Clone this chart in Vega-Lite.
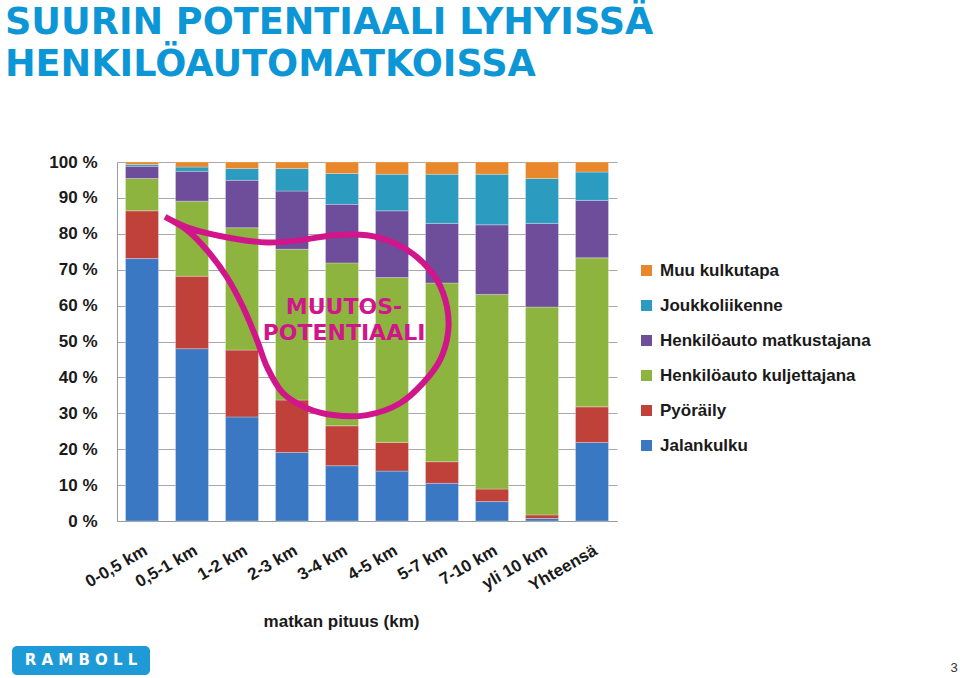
{
  "$schema": "https://vega.github.io/schema/vega-lite/v6.json",
  "width": 500,
  "height": 359,
  "autosize": "none",
  "padding": {"left": 117, "top": 162, "right": 343, "bottom": 157},
  "background": "white",
  "title": {
    "text": ["SUURIN POTENTIAALI LYHYISSÄ", "HENKILÖAUTOMATKOISSA"],
    "anchor": "start",
    "frame": "group",
    "dx": -112,
    "offset": 69,
    "font": "DejaVu Sans",
    "fontSize": 36.6,
    "fontWeight": "bold",
    "color": "#0D96D6",
    "lineHeight": 42
  },
  "config": {
    "view": {"stroke": null},
    "axis": {"labelFont": "Liberation Sans", "titleFont": "Liberation Sans"},
    "legend": {"labelFont": "Liberation Sans"}
  },
  "datasets": {
    "osuudet": [
      {"matka": "0-0,5 km", "kulkutapa": "Jalankulku", "osuus": 73.1},
      {"matka": "0-0,5 km", "kulkutapa": "Pyöräily", "osuus": 13.3},
      {"matka": "0-0,5 km", "kulkutapa": "Henkilöauto kuljettajana", "osuus": 9.0},
      {"matka": "0-0,5 km", "kulkutapa": "Henkilöauto matkustajana", "osuus": 3.4},
      {"matka": "0-0,5 km", "kulkutapa": "Joukkoliikenne", "osuus": 0.5},
      {"matka": "0-0,5 km", "kulkutapa": "Muu kulkutapa", "osuus": 0.7},
      {"matka": "0,5-1 km", "kulkutapa": "Jalankulku", "osuus": 48.0},
      {"matka": "0,5-1 km", "kulkutapa": "Pyöräily", "osuus": 20.2},
      {"matka": "0,5-1 km", "kulkutapa": "Henkilöauto kuljettajana", "osuus": 20.9},
      {"matka": "0,5-1 km", "kulkutapa": "Henkilöauto matkustajana", "osuus": 8.3},
      {"matka": "0,5-1 km", "kulkutapa": "Joukkoliikenne", "osuus": 1.2},
      {"matka": "0,5-1 km", "kulkutapa": "Muu kulkutapa", "osuus": 1.4},
      {"matka": "1-2 km", "kulkutapa": "Jalankulku", "osuus": 29.0},
      {"matka": "1-2 km", "kulkutapa": "Pyöräily", "osuus": 18.6},
      {"matka": "1-2 km", "kulkutapa": "Henkilöauto kuljettajana", "osuus": 34.1},
      {"matka": "1-2 km", "kulkutapa": "Henkilöauto matkustajana", "osuus": 13.2},
      {"matka": "1-2 km", "kulkutapa": "Joukkoliikenne", "osuus": 3.3},
      {"matka": "1-2 km", "kulkutapa": "Muu kulkutapa", "osuus": 1.8},
      {"matka": "2-3 km", "kulkutapa": "Jalankulku", "osuus": 19.1},
      {"matka": "2-3 km", "kulkutapa": "Pyöräily", "osuus": 14.6},
      {"matka": "2-3 km", "kulkutapa": "Henkilöauto kuljettajana", "osuus": 42.0},
      {"matka": "2-3 km", "kulkutapa": "Henkilöauto matkustajana", "osuus": 16.2},
      {"matka": "2-3 km", "kulkutapa": "Joukkoliikenne", "osuus": 6.3},
      {"matka": "2-3 km", "kulkutapa": "Muu kulkutapa", "osuus": 1.8},
      {"matka": "3-4 km", "kulkutapa": "Jalankulku", "osuus": 15.4},
      {"matka": "3-4 km", "kulkutapa": "Pyöräily", "osuus": 11.1},
      {"matka": "3-4 km", "kulkutapa": "Henkilöauto kuljettajana", "osuus": 45.4},
      {"matka": "3-4 km", "kulkutapa": "Henkilöauto matkustajana", "osuus": 16.3},
      {"matka": "3-4 km", "kulkutapa": "Joukkoliikenne", "osuus": 8.6},
      {"matka": "3-4 km", "kulkutapa": "Muu kulkutapa", "osuus": 3.2},
      {"matka": "4-5 km", "kulkutapa": "Jalankulku", "osuus": 13.9},
      {"matka": "4-5 km", "kulkutapa": "Pyöräily", "osuus": 8.0},
      {"matka": "4-5 km", "kulkutapa": "Henkilöauto kuljettajana", "osuus": 45.9},
      {"matka": "4-5 km", "kulkutapa": "Henkilöauto matkustajana", "osuus": 18.6},
      {"matka": "4-5 km", "kulkutapa": "Joukkoliikenne", "osuus": 10.2},
      {"matka": "4-5 km", "kulkutapa": "Muu kulkutapa", "osuus": 3.4},
      {"matka": "5-7 km", "kulkutapa": "Jalankulku", "osuus": 10.5},
      {"matka": "5-7 km", "kulkutapa": "Pyöräily", "osuus": 6.0},
      {"matka": "5-7 km", "kulkutapa": "Henkilöauto kuljettajana", "osuus": 49.8},
      {"matka": "5-7 km", "kulkutapa": "Henkilöauto matkustajana", "osuus": 16.6},
      {"matka": "5-7 km", "kulkutapa": "Joukkoliikenne", "osuus": 13.7},
      {"matka": "5-7 km", "kulkutapa": "Muu kulkutapa", "osuus": 3.4},
      {"matka": "7-10 km", "kulkutapa": "Jalankulku", "osuus": 5.4},
      {"matka": "7-10 km", "kulkutapa": "Pyöräily", "osuus": 3.5},
      {"matka": "7-10 km", "kulkutapa": "Henkilöauto kuljettajana", "osuus": 54.2},
      {"matka": "7-10 km", "kulkutapa": "Henkilöauto matkustajana", "osuus": 19.4},
      {"matka": "7-10 km", "kulkutapa": "Joukkoliikenne", "osuus": 14.1},
      {"matka": "7-10 km", "kulkutapa": "Muu kulkutapa", "osuus": 3.4},
      {"matka": "yli 10 km", "kulkutapa": "Jalankulku", "osuus": 0.7},
      {"matka": "yli 10 km", "kulkutapa": "Pyöräily", "osuus": 1.0},
      {"matka": "yli 10 km", "kulkutapa": "Henkilöauto kuljettajana", "osuus": 57.9},
      {"matka": "yli 10 km", "kulkutapa": "Henkilöauto matkustajana", "osuus": 23.3},
      {"matka": "yli 10 km", "kulkutapa": "Joukkoliikenne", "osuus": 12.5},
      {"matka": "yli 10 km", "kulkutapa": "Muu kulkutapa", "osuus": 4.6},
      {"matka": "Yhteensä", "kulkutapa": "Jalankulku", "osuus": 21.9},
      {"matka": "Yhteensä", "kulkutapa": "Pyöräily", "osuus": 9.9},
      {"matka": "Yhteensä", "kulkutapa": "Henkilöauto kuljettajana", "osuus": 41.5},
      {"matka": "Yhteensä", "kulkutapa": "Henkilöauto matkustajana", "osuus": 16.0},
      {"matka": "Yhteensä", "kulkutapa": "Joukkoliikenne", "osuus": 7.9},
      {"matka": "Yhteensä", "kulkutapa": "Muu kulkutapa", "osuus": 2.8}
    ],
    "jarjestys": [
      {"kulkutapa": "Jalankulku", "jarjestys": 1},
      {"kulkutapa": "Pyöräily", "jarjestys": 2},
      {"kulkutapa": "Henkilöauto kuljettajana", "jarjestys": 3},
      {"kulkutapa": "Henkilöauto matkustajana", "jarjestys": 4},
      {"kulkutapa": "Joukkoliikenne", "jarjestys": 5},
      {"kulkutapa": "Muu kulkutapa", "jarjestys": 6}
    ],
    "kontur": [
      {"i": 0, "px": 0.96, "py": 84.7},
      {"i": 1, "px": 1.46, "py": 81.5},
      {"i": 2, "px": 2.32, "py": 78.7},
      {"i": 3, "px": 3.0, "py": 77.6},
      {"i": 4, "px": 3.66, "py": 78.2},
      {"i": 5, "px": 4.32, "py": 79.6},
      {"i": 6, "px": 5.0, "py": 79.6},
      {"i": 7, "px": 5.52, "py": 77.6},
      {"i": 8, "px": 6.0, "py": 73.5},
      {"i": 9, "px": 6.4, "py": 67.1},
      {"i": 10, "px": 6.6, "py": 59.6},
      {"i": 11, "px": 6.62, "py": 52.3},
      {"i": 12, "px": 6.46, "py": 44.8},
      {"i": 13, "px": 6.12, "py": 38.4},
      {"i": 14, "px": 5.66, "py": 32.8},
      {"i": 15, "px": 5.0, "py": 29.5},
      {"i": 16, "px": 4.32, "py": 29.5},
      {"i": 17, "px": 3.8, "py": 31.4},
      {"i": 18, "px": 3.32, "py": 35.6},
      {"i": 19, "px": 3.0, "py": 42.9},
      {"i": 20, "px": 2.8, "py": 50.4},
      {"i": 21, "px": 2.52, "py": 59.6},
      {"i": 22, "px": 2.2, "py": 67.9},
      {"i": 23, "px": 1.8, "py": 75.4},
      {"i": 24, "px": 1.4, "py": 81.0},
      {"i": 25, "px": 0.96, "py": 84.7}
    ]
  },
  "layer": [
    {
      "data": {"name": "osuudet"},
      "transform": [
        {"lookup": "kulkutapa", "from": {"data": {"name": "jarjestys"}, "key": "kulkutapa", "fields": ["jarjestys"]}}
      ],
      "mark": {"type": "bar", "stroke": "#ffffff", "strokeOpacity": 0.35, "strokeWidth": 0.8},
      "encoding": {
        "x": {
          "field": "matka",
          "type": "nominal",
          "sort": null,
          "scale": {"paddingInner": 0.34, "paddingOuter": 0.17},
          "axis": {
            "title": "matkan pituus (km)",
            "titleFontSize": 17,
            "titleFontWeight": "bold",
            "titleColor": "#1a1a1a",
            "titlePadding": 20,
            "titleX": 224,
            "labelAngle": -30,
            "labelAlign": "right",
            "labelBaseline": "top",
            "labelPadding": 21,
            "labelFontSize": 17,
            "labelFontWeight": "bold",
            "labelColor": "#1a1a1a",
            "ticks": false,
            "domainColor": "#9a9a9a"
          }
        },
        "y": {
          "field": "osuus",
          "type": "quantitative",
          "stack": "zero",
          "scale": {"domain": [0, 100], "nice": false},
          "axis": {
            "title": null,
            "values": [0, 10, 20, 30, 40, 50, 60, 70, 80, 90, 100],
            "labelExpr": "datum.value + ' %'",
            "labelOverlap": false,
            "labelFontSize": 17,
            "labelFontWeight": "bold",
            "labelColor": "#1a1a1a",
            "labelPadding": 20,
            "ticks": false,
            "grid": true,
            "gridColor": "#a8a8a8",
            "domainColor": "#9a9a9a"
          }
        },
        "order": {"field": "jarjestys", "type": "quantitative", "sort": "ascending"},
        "color": {
          "field": "kulkutapa",
          "type": "nominal",
          "scale": {
            "domain": ["Jalankulku", "Pyöräily", "Henkilöauto kuljettajana", "Henkilöauto matkustajana", "Joukkoliikenne", "Muu kulkutapa"],
            "range": ["#3B78C4", "#C0403A", "#8DB43E", "#6E4D9A", "#2B9CBF", "#E8872B"]
          },
          "legend": {
            "title": null,
            "orient": "none",
            "legendX": 521,
            "legendY": 100,
            "values": ["Muu kulkutapa", "Joukkoliikenne", "Henkilöauto matkustajana", "Henkilöauto kuljettajana", "Pyöräily", "Jalankulku"],
            "symbolType": "square",
            "symbolSize": 121,
            "symbolStrokeWidth": 0,
            "labelFontSize": 17,
            "labelFontWeight": "bold",
            "labelColor": "#1a1a1a",
            "labelLimit": 320,
            "labelOffset": 5,
            "rowPadding": 17
          }
        }
      }
    },
    {
      "data": {"name": "kontur"},
      "mark": {"type": "line", "interpolate": "catmull-rom", "color": "#D1168C", "strokeWidth": 6, "clip": false},
      "encoding": {
        "x": {"field": "px", "type": "quantitative", "scale": {"domain": [0, 10], "nice": false, "zero": false}, "axis": null},
        "y": {"field": "py", "type": "quantitative", "scale": {"domain": [0, 100], "nice": false}, "axis": null},
        "order": {"field": "i", "type": "quantitative"}
      }
    },
    {
      "data": {"values": [{}]},
      "mark": {"type": "text", "lineBreak": "\n", "font": "DejaVu Sans", "fontWeight": "bold", "fontSize": 22, "color": "#D1168C", "align": "center", "baseline": "middle", "lineHeight": 26},
      "encoding": {
        "x": {"datum": 4.54, "type": "quantitative", "scale": {"domain": [0, 10], "nice": false, "zero": false}, "axis": null},
        "y": {"datum": 59.5, "type": "quantitative", "scale": {"domain": [0, 100], "nice": false}, "axis": null},
        "text": {"value": "MUUTOS-\nPOTENTIAALI"}
      }
    },
    {
      "data": {"values": [{}]},
      "mark": {"type": "rect", "color": "#1E9BD7", "cornerRadius": 5, "clip": false},
      "encoding": {
        "x": {"datum": -2.1, "type": "quantitative", "scale": {"domain": [0, 10], "nice": false, "zero": false}, "axis": null},
        "x2": {"datum": 0.66},
        "y": {"datum": -34.8, "type": "quantitative", "scale": {"domain": [0, 100], "nice": false}, "axis": null},
        "y2": {"datum": -42.9}
      }
    },
    {
      "data": {"values": [{}]},
      "mark": {"type": "text", "font": "DejaVu Sans", "fontWeight": "bold", "fontSize": 15, "color": "white", "align": "center", "baseline": "middle", "clip": false},
      "encoding": {
        "x": {"datum": -0.72, "type": "quantitative", "scale": {"domain": [0, 10], "nice": false, "zero": false}, "axis": null},
        "y": {"datum": -38.8, "type": "quantitative", "scale": {"domain": [0, 100], "nice": false}, "axis": null},
        "text": {"value": "R A M B O L L"}
      }
    },
    {
      "data": {"values": [{}]},
      "mark": {"type": "text", "font": "Liberation Sans", "fontSize": 13, "color": "#333333", "align": "center", "baseline": "middle", "clip": false},
      "encoding": {
        "x": {"datum": 16.74, "type": "quantitative", "scale": {"domain": [0, 10], "nice": false, "zero": false}, "axis": null},
        "y": {"datum": -40.9, "type": "quantitative", "scale": {"domain": [0, 100], "nice": false}, "axis": null},
        "text": {"value": "3"}
      }
    }
  ],
  "resolve": {"scale": {"x": "independent", "y": "independent"}, "axis": {"x": "independent", "y": "independent"}}
}
